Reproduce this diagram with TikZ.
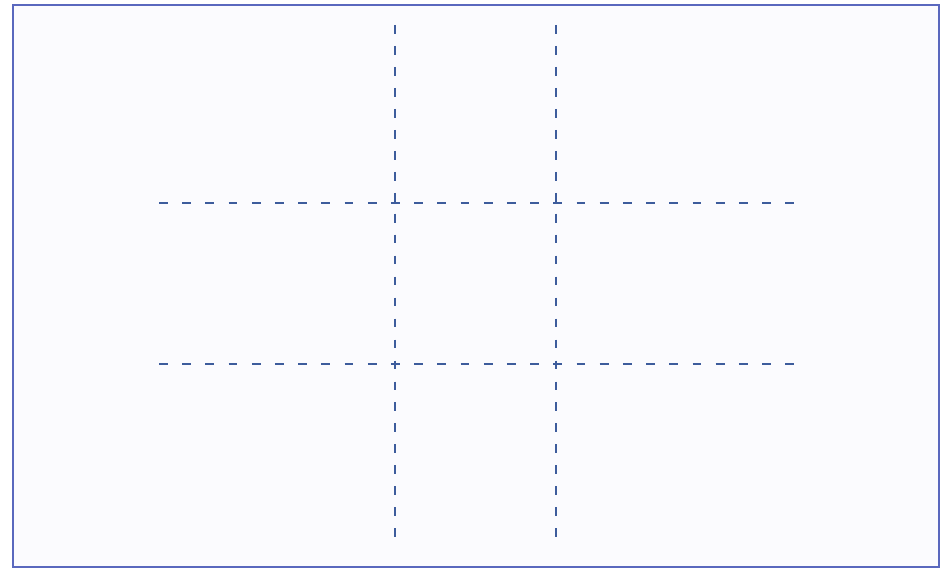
\documentclass[tikz,border=0pt]{standalone}
\usepackage{tikz}
\definecolor{framecol}{HTML}{5A68BE}
\definecolor{gridcol}{HTML}{3D5C9C}
\definecolor{paper}{HTML}{FBFBFE}

\begin{document}
\begin{tikzpicture}[x=0.3mm,y=-0.3mm]
\useasboundingbox (0,0) rectangle (947,571);
\fill[white] (0,0) rectangle (947,571);
\draw[framecol,line width=2.5pt,fill=paper] (13,5) rectangle (939,567);
\foreach \x in {395,556}{\draw[gridcol,line width=2pt,dash pattern=on 7.5pt off 10.4pt] (\x,25)--(\x,545);}
\foreach \y in {203,364}{\draw[gridcol,line width=2pt,dash pattern=on 7.5pt off 12.3pt] (159,\y)--(794,\y);}
\end{tikzpicture}
\end{document}
